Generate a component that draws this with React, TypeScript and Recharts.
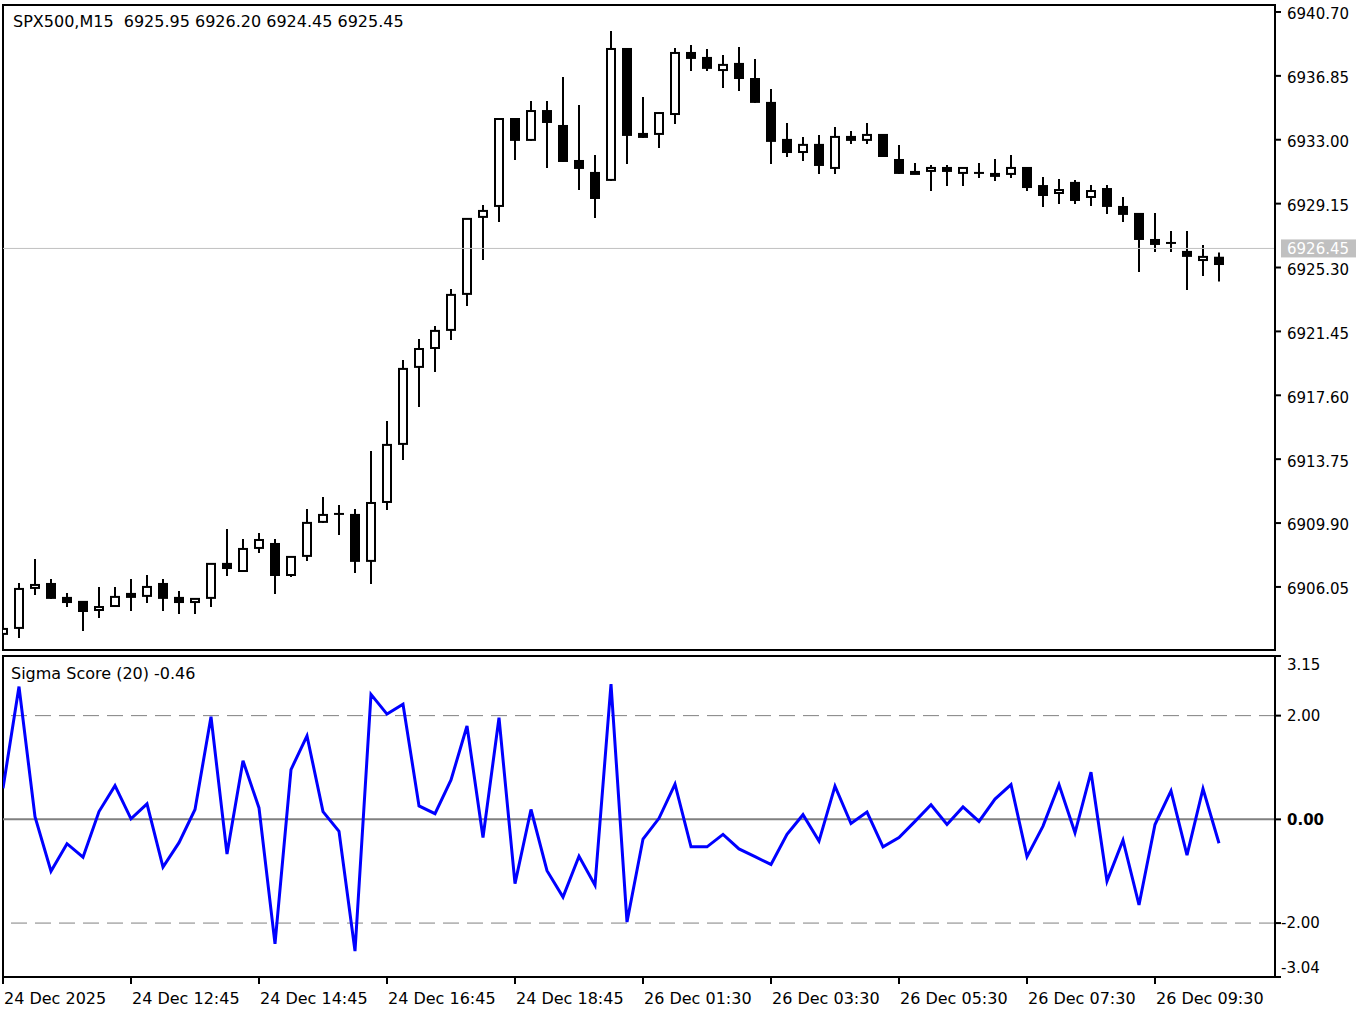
import React from "react";
import {
  ComposedChart,
  Bar,
  Line,
  XAxis,
  YAxis,
  ReferenceLine,
  ReferenceArea,
} from "recharts";

// SPX500 M15 candles
const opens = [
  6903.16, 6903.52, 6905.93, 6906.29, 6905.45, 6905.21, 6904.6, 6904.84, 6905.45, 6905.45,
  6906.29, 6905.45, 6905.08, 6905.33, 6907.5, 6906.95, 6908.34, 6908.7, 6906.71, 6907.86,
  6909.91, 6910.45, 6910.45, 6907.56, 6911.11, 6914.61, 6919.25, 6920.39, 6921.48, 6923.65,
  6928.29, 6928.95, 6934.31, 6932.93, 6934.79, 6933.89, 6931.78, 6931.06, 6930.52, 6938.53,
  6933.41, 6933.29, 6934.49, 6938.29, 6937.99, 6937.14, 6937.63, 6936.72, 6935.28, 6933.05,
  6932.2, 6932.75, 6931.24, 6933.23, 6932.93, 6933.35, 6931.84, 6930.94, 6931.06, 6931.36,
  6930.94, 6931.0, 6930.76, 6930.88, 6931.36, 6930.27, 6929.73, 6930.46, 6929.49, 6930.09,
  6929.01, 6928.59, 6927.02, 6926.78, 6926.3, 6925.69, 6925.95,
];
const highs = [
  6903.7, 6906.29, 6907.74, 6906.53, 6905.69, 6905.21, 6906.05, 6906.05, 6906.53, 6906.77,
  6906.53, 6905.81, 6905.39, 6907.5, 6909.54, 6908.94, 6909.3, 6908.94, 6907.92, 6910.75,
  6911.47, 6910.99, 6910.75, 6914.24, 6916.05, 6919.73, 6920.99, 6921.78, 6924.01, 6928.29,
  6929.07, 6934.31, 6934.31, 6935.34, 6935.34, 6936.78, 6935.1, 6932.08, 6939.56, 6938.53,
  6935.58, 6934.67, 6938.53, 6938.71, 6938.47, 6938.11, 6938.59, 6937.87, 6936.06, 6934.01,
  6933.17, 6933.29, 6933.77, 6933.53, 6934.01, 6933.35, 6932.69, 6931.6, 6931.48, 6931.48,
  6931.36, 6931.6, 6931.84, 6932.08, 6931.36, 6930.76, 6930.64, 6930.58, 6930.27, 6930.27,
  6929.55, 6928.59, 6928.59, 6927.5, 6927.5, 6926.66, 6926.2,
];
const lows = [
  6902.98, 6902.98, 6905.57, 6905.33, 6904.84, 6903.4, 6904.18, 6904.84, 6904.6, 6905.08,
  6904.6, 6904.42, 6904.42, 6904.84, 6906.71, 6906.95, 6908.1, 6905.63, 6906.65, 6907.62,
  6909.91, 6909.18, 6906.89, 6906.23, 6910.69, 6913.7, 6916.9, 6919.01, 6920.93, 6922.98,
  6925.76, 6928.05, 6931.78, 6932.93, 6931.3, 6931.66, 6929.97, 6928.29, 6930.52, 6931.54,
  6933.11, 6932.5, 6933.95, 6937.14, 6937.14, 6936.12, 6935.94, 6935.22, 6931.54, 6931.96,
  6931.72, 6930.94, 6930.94, 6932.75, 6932.75, 6931.96, 6930.94, 6930.94, 6929.91, 6930.21,
  6930.21, 6930.7, 6930.52, 6930.7, 6929.91, 6928.95, 6929.13, 6929.13, 6929.01, 6928.53,
  6928.05, 6925.03, 6926.24, 6926.24, 6923.95, 6924.79, 6924.45,
];
const closes = [
  6903.58, 6905.99, 6906.23, 6905.33, 6905.08, 6904.54, 6904.9, 6905.51, 6905.63, 6906.11,
  6905.33, 6905.08, 6905.39, 6907.5, 6907.13, 6908.4, 6908.94, 6906.71, 6907.92, 6909.97,
  6910.45, 6910.45, 6907.56, 6911.17, 6914.67, 6919.25, 6920.45, 6921.54, 6923.71, 6928.29,
  6928.77, 6934.31, 6932.93, 6934.79, 6934.01, 6931.66, 6931.24, 6929.43, 6938.53, 6933.23,
  6933.11, 6934.67, 6938.29, 6937.87, 6937.27, 6937.57, 6936.66, 6935.22, 6932.87, 6932.2,
  6932.75, 6931.42, 6933.23, 6932.93, 6933.35, 6931.96, 6930.94, 6931.06, 6931.36, 6931.06,
  6931.36, 6931.0, 6931.0, 6931.36, 6930.09, 6929.61, 6930.03, 6929.31, 6929.97, 6928.95,
  6928.47, 6926.96, 6926.66, 6926.78, 6925.94, 6926.0, 6925.45,
];

// Sigma Score (20)
const sigma = [
  0.6, 2.56, 0.05, -1.0, -0.47, -0.73, 0.15, 0.65, 0.01, 0.3,
  -0.92, -0.45, 0.19, 1.98, -0.67, 1.13, 0.22, -2.4, 0.96, 1.61,
  0.15, -0.23, -2.54, 2.41, 2.03, 2.22, 0.26, 0.11, 0.76, 1.8,
  -0.35, 1.96, -1.24, 0.19, -0.99, -1.5, -0.71, -1.27, 2.61, -1.98,
  -0.38, 0.02, 0.68, -0.53, -0.53, -0.29, -0.57, -0.72, -0.87, -0.29,
  0.09, -0.42, 0.64, -0.08, 0.14, -0.53, -0.35, -0.04, 0.28, -0.1,
  0.24, -0.04, 0.39, 0.67, -0.72, -0.13, 0.67, -0.26, 0.91, -1.19,
  -0.4, -1.65, -0.1, 0.55, -0.69, 0.59, -0.46,
];

const priceTicks = [6940.7, 6936.85, 6933.0, 6929.15, 6925.3, 6921.45, 6917.6, 6913.75, 6909.9, 6906.05];
const sigmaTicks = [3.15, 2, 0, -2, -3.04];
const timeTickIdx = [0, 8, 16, 24, 32, 40, 48, 56, 64, 72];
const timeLabels = [
  "24 Dec 2025", "24 Dec 12:45", "24 Dec 14:45", "24 Dec 16:45", "24 Dec 18:45",
  "26 Dec 01:30", "26 Dec 03:30", "26 Dec 05:30", "26 Dec 07:30", "26 Dec 09:30",
];
const askPrice = 6926.45;
const header = "SPX500,M15  6925.95 6926.20 6924.45 6925.45";
const sigmaTitle = "Sigma Score (20) -0.46";

const priceDomain = [6902.25, 6941.12];
const sigmaDomain = [-3.04, 3.15];
const xDomain = [0, 79.5];

const FONT = "DejaVu Sans";
const FS = 15;
const FS_TEXT = 16;

const data = opens.map((o, i) => ({
  i,
  open: o,
  high: highs[i],
  low: lows[i],
  close: closes[i],
  sigma: sigma[i],
}));

const Candle = (props: any) => {
  const { x, y, width, height, payload } = props;
  const { open, high, low, close } = payload;
  const cx = Math.round(x + width / 2);
  const yHi = Math.min(y, y + height);
  const yLo = Math.max(y, y + height);
  const py = (v: number) => (high === low ? yHi : yHi + ((high - v) / (high - low)) * (yLo - yHi));
  const top = py(Math.max(open, close));
  const bot = py(Math.min(open, close));
  const wick = <line x1={cx} x2={cx} y1={yHi} y2={yLo} stroke="#000" strokeWidth={2} />;
  if (Math.abs(open - close) < 0.001) {
    return (
      <g>
        {wick}
        <line x1={cx - 5} x2={cx + 5} y1={top} y2={top} stroke="#000" strokeWidth={2} />
      </g>
    );
  }
  if (close > open) {
    const h = bot - top;
    return (
      <g>
        {wick}
        {h > 3 ? (
          <rect x={cx - 4} y={top + 1} width={8} height={h - 2} fill="#fff" stroke="#000" strokeWidth={2} />
        ) : (
          <rect x={cx - 5} y={top - 1} width={10} height={Math.max(h, 2) + 2} fill="#000" />
        )}
      </g>
    );
  }
  return (
    <g>
      {wick}
      <rect x={cx - 5} y={top} width={10} height={Math.max(bot - top, 2)} fill="#000" />
    </g>
  );
};

const PriceTick = (props: any) => {
  const { x, y, payload } = props;
  return (
    <text x={x} y={y + 2} dy="0.36em" fontSize={FS} fontFamily={FONT} fill="#000" textAnchor="start">
      {Number(payload.value).toFixed(2)}
    </text>
  );
};

const SigmaTick = (props: any) => {
  const { x, y, payload } = props;
  const v = Number(payload.value);
  const shift = v === 3.15 ? 9 : v === -3.04 ? -9 : 0;
  return (
    <text
      x={x - (v < 0 ? 6 : 0)}
      y={y + shift}
      dy="0.36em"
      fontSize={FS}
      fontFamily={FONT}
      fontWeight={v === 0 ? "bold" : "normal"}
      fill="#000"
      textAnchor="start"
    >
      {v.toFixed(2)}
    </text>
  );
};

const TimeTick = (props: any) => {
  const { x, y, payload } = props;
  const k = timeTickIdx.indexOf(Number(payload.value));
  return (
    <text x={x + 1} y={y + 12} dy="0.36em" fontSize={FS_TEXT} fontFamily={FONT} fill="#000" textAnchor="start">
      {k >= 0 ? timeLabels[k] : ""}
    </text>
  );
};

const AskLabel = (props: any) => {
  const vb = props.viewBox || {};
  const left = vb.x + vb.width + 6;
  return (
    <g>
      <rect x={left} y={vb.y - 9} width={75} height={18} fill="#c0c0c0" />
      <text x={left + 6} y={vb.y} dy="0.36em" fontSize={FS} fontFamily={FONT} fill="#fff">
        {askPrice.toFixed(2)}
      </text>
    </g>
  );
};

export default function App() {
  return (
    <div style={{ position: "relative", width: 1364, height: 1010, background: "#fff", overflow: "hidden" }}>
      <style>{`body{margin:0;}`}</style>
      <div style={{ position: "absolute", left: 0, top: 0 }}>
        <ComposedChart width={1364} height={651} data={data} margin={{ top: 5, right: 0, bottom: 1, left: 3 }}>
          <XAxis dataKey="i" type="number" domain={xDomain} allowDataOverflow hide />
          <YAxis
            orientation="right"
            type="number"
            domain={priceDomain}
            allowDataOverflow
            ticks={priceTicks}
            interval={0}
            width={89}
            axisLine={{ stroke: "#000", strokeWidth: 2 }}
            tickLine={{ stroke: "#000", strokeWidth: 2 }}
            tickSize={6}
            tickMargin={6}
            tick={<PriceTick />}
          />
          <ReferenceArea
            x1={xDomain[0]}
            x2={xDomain[1]}
            y1={priceDomain[0]}
            y2={priceDomain[1]}
            fill="none"
            fillOpacity={0}
            stroke="#000"
            strokeWidth={2}
          />
          <ReferenceLine y={askPrice} stroke="#c0c0c0" strokeWidth={1} label={<AskLabel />} />
          <Bar
            dataKey={(d: any) => [d.low, d.high]}
            barSize={12}
            shape={<Candle />}
            isAnimationActive={false}
          />
        </ComposedChart>
      </div>
      <div style={{ position: "absolute", left: 0, top: 654 }}>
        <ComposedChart width={1364} height={356} data={data} margin={{ top: 2, right: 0, bottom: 0, left: 3 }}>
          <XAxis
            dataKey="i"
            type="number"
            domain={xDomain}
            allowDataOverflow
            ticks={timeTickIdx}
            interval={0}
            height={33}
            axisLine={false}
            tickLine={{ stroke: "#000", strokeWidth: 2 }}
            tickSize={7}
            tick={<TimeTick />}
          />
          <YAxis
            orientation="right"
            type="number"
            domain={sigmaDomain}
            allowDataOverflow
            ticks={sigmaTicks}
            interval={0}
            width={89}
            axisLine={{ stroke: "#000", strokeWidth: 2 }}
            tickLine={{ stroke: "#000", strokeWidth: 2 }}
            tickSize={6}
            tickMargin={6}
            tick={<SigmaTick />}
          />
          <ReferenceArea
            x1={xDomain[0]}
            x2={xDomain[1]}
            y1={sigmaDomain[0]}
            y2={sigmaDomain[1]}
            fill="none"
            fillOpacity={0}
            stroke="#000"
            strokeWidth={2}
          />
          <ReferenceLine y={2} stroke="#808080" strokeWidth={1} strokeDasharray="16 8" />
          <ReferenceLine y={-2} stroke="#808080" strokeWidth={1} strokeDasharray="16 8" />
          <ReferenceLine y={0} stroke="#808080" strokeWidth={2} />
          <Line
            dataKey="sigma"
            type="linear"
            stroke="#0000ff"
            strokeWidth={3}
            dot={false}
            activeDot={false}
            isAnimationActive={false}
          />
        </ComposedChart>
      </div>
      <svg width={1364} height={1010} style={{ position: "absolute", left: 0, top: 0, pointerEvents: "none" }}>
        <text x={13} y={21} dy="0.36em" fontSize={FS_TEXT} fontFamily={FONT} fill="#000" style={{ whiteSpace: "pre" }}>
          {header}
        </text>
        <text x={11} y={673} dy="0.36em" fontSize={FS_TEXT} fontFamily={FONT} fill="#000">
          {sigmaTitle}
        </text>
      </svg>
    </div>
  );
}
